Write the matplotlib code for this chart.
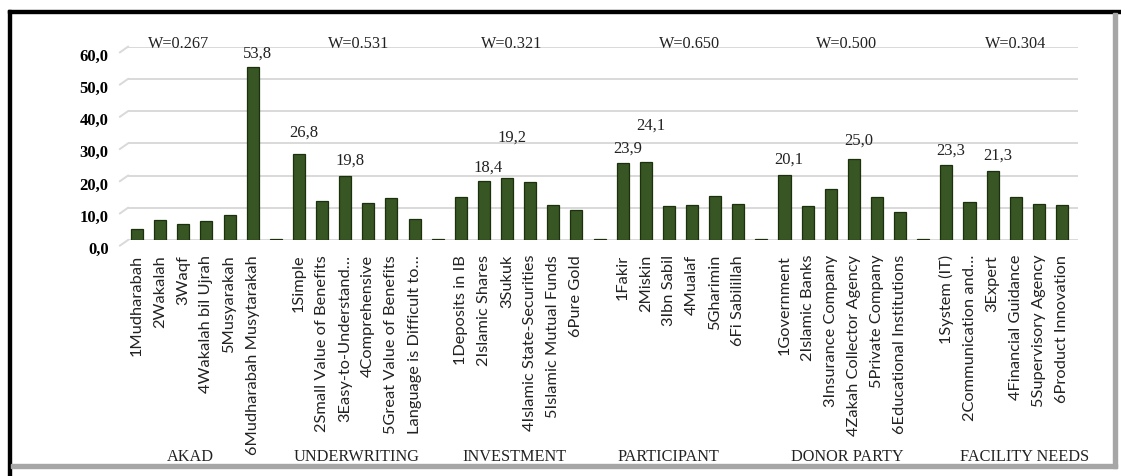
import numpy as np
import matplotlib
matplotlib.use("Agg")
import matplotlib.pyplot as plt
import matplotlib.transforms as mtransforms
from matplotlib.patches import Rectangle

# ── DATA ─────────────────────────────────────────────────────────
groups = ["AKAD", "UNDERWRITING", "INVESTMENT", "PARTICIPANT", "DONOR PARTY", "FACILITY NEEDS"]
w_values = ["W=0.267", "W=0.531", "W=0.321", "W=0.650", "W=0.500", "W=0.304"]
items = [
    ["1Mudharabah", "2Wakalah", "3Waqf", "4Wakalah bil Ujrah", "5Musyarakah", "6Mudharabah Musytarakah"],
    ["1Simple", "2Small Value of Benefits", "3Easy-to-Understand…", "4Comprehensive",
     "5Great Value of Benefits", "Language is Difficult to…"],
    ["1Deposits in IB", "2Islamic Shares", "3Sukuk", "4Islamic State-Securities",
     "5Islamic Mutual Funds", "6Pure Gold"],
    ["1Fakir", "2Miskin", "3Ibn Sabil", "4Mualaf", "5Gharimin", "6Fi Sabilillah"],
    ["1Government", "2Islamic Banks", "3Insurance Company", "4Zakah Collector Agency",
     "5Private Company", "6Educational Institutions"],
    ["1System (IT)", "2Communication and…", "3Expert", "4Financial Guidance",
     "5Supervisory Agency", "6Product Innovation"],
]
akad = [3.4, 6.1, 5.1, 5.8, 7.7, 53.8]
underwriting = [26.8, 12.0, 19.8, 11.5, 12.9, 6.6]
investment = [13.4, 18.4, 19.2, 18.1, 10.8, 9.4]
participant = [23.9, 24.1, 10.6, 10.8, 13.6, 11.1]
donor = [20.1, 10.6, 15.8, 25.0, 13.2, 8.7]
facility = [23.3, 11.8, 21.3, 13.4, 11.3, 11.0]
values = [akad, underwriting, investment, participant, donor, facility]
gap_value = 0.3  # empty separator category between groups

# labelled bars: (group, item) -> vertical offset of the label
labelled = {(0, 5): 4.4, (1, 0): 6.7, (1, 2): 5.1, (2, 1): 4.4, (2, 2): 13.0,
            (3, 0): 4.7, (3, 1): 11.7, (4, 0): 5.3, (4, 3): 6.1, (5, 0): 4.7, (5, 2): 5.2}
w_shift = [-0.7, 0.1, -0.3, 0.4, 0.2, 0.5]
g_shift = [-0.2, 0.0, -0.2, -0.5, 0.2, 0.9]

# ── BUILD CATEGORY AXIS ──────────────────────────────────────────
pos, heights, ticklabels = [], [], []
k = 0
for g, (names, vals) in enumerate(zip(items, values)):
    for n, v in zip(names, vals):
        pos.append(k); heights.append(v); ticklabels.append(n); k += 1
    if g < len(groups) - 1:
        pos.append(k); heights.append(gap_value); ticklabels.append(""); k += 1

SERIF = "Liberation Serif"
SANS = "Lato"
GREEN = "#375623"

fig = plt.figure(figsize=(11.21, 4.77), dpi=100)
ax = fig.add_axes([0.1142, 0.4948, 0.8474, 0.4052])

ax.bar(pos, heights, width=0.52, color=GREEN, edgecolor="#1c300d", linewidth=0.9, zorder=3)
ax.set_ylim(0, 60)
ax.set_xlim(-0.39, pos[-1] + 0.69)
ax.set_yticks(np.arange(0, 61, 10))
ax.set_yticklabels([f"{t:.1f}".replace(".", ",") for t in np.arange(0, 61, 10)],
                   fontfamily=SERIF, fontweight="bold", fontsize=12)
ax.grid(axis="y", color="#d9d9d9", linewidth=1.4, zorder=0)
ax.tick_params(axis="y", length=0, pad=14)
ax.set_xticks(pos)
ax.set_xticklabels(ticklabels, rotation=90, fontfamily=SANS, fontsize=11.8, color="#222222")
ax.tick_params(axis="x", length=0, pad=10)
for s in ax.spines.values():
    s.set_visible(False)

# shift y labels down to the front plane
off = mtransforms.ScaledTranslation(0, -5 / 72, fig.dpi_scale_trans)
for lbl in ax.get_yticklabels():
    lbl.set_transform(lbl.get_transform() + off)

# perspective stubs at the left end of the gridlines
bt = mtransforms.blended_transform_factory(ax.transAxes, ax.transData)
for t in np.arange(0, 61, 10):
    ax.plot([-0.0085, 0], [t - 1.75, t], color="#d9d9d9", lw=1.4, transform=bt, clip_on=False)

# value labels
for (g, i), dy in labelled.items():
    x = g * 7 + i
    v = values[g][i]
    ax.text(x + 0.2, v + dy, f"{v:.1f}".replace(".", ","), ha="center", va="center",
            fontfamily=SERIF, fontsize=12, color="#222222")

# W labels and group names
gt = mtransforms.blended_transform_factory(ax.transData, fig.transFigure)
for g in range(len(groups)):
    c = g * 7 + 2.5
    ax.text(c + w_shift[g], 59.8, w_values[g], ha="center", va="baseline",
            fontfamily=SERIF, fontsize=11.7, color="#222222", clip_on=False)
    ax.text(c + g_shift[g], 0.042, groups[g], ha="center", va="center", transform=gt,
            fontfamily=SERIF, fontsize=11.7, color="#222222")

# picture frame: black top/left, gray shadow bottom/right
W, H = 1121, 477
fig.patches.append(Rectangle((8 / W, 0), 3 / W, 466 / H, transform=fig.transFigure,
                             color="black", zorder=10))
fig.patches.append(Rectangle((8 / W, 463 / H), 1 - 8 / W, 3 / H, transform=fig.transFigure,
                             color="black", zorder=10))
fig.patches.append(Rectangle((1113 / W, 8 / H), 4 / W, 455 / H, transform=fig.transFigure,
                             color="#a6a6a6", zorder=10))
fig.patches.append(Rectangle((11 / W, 8 / H), 1106 / W, 4 / H, transform=fig.transFigure,
                             color="#a6a6a6", zorder=10))

fig.savefig("out.png", dpi=100)
